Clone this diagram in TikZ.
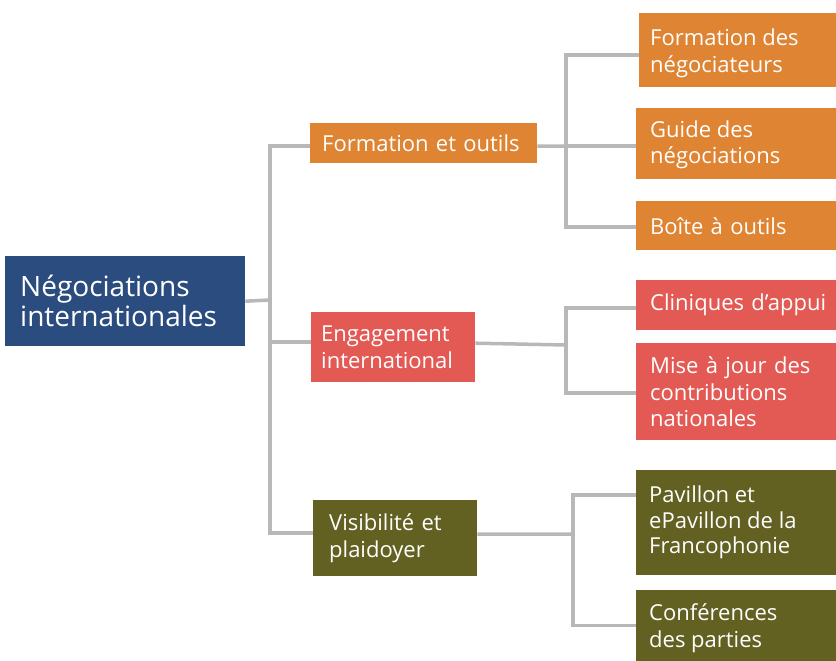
\documentclass[tikz,border=0pt]{standalone}
\usepackage{fontspec}
\setmainfont{Open Sans}
\usetikzlibrary{backgrounds}
\definecolor{navy}{HTML}{2B4C7E}
\definecolor{orng}{HTML}{DE8433}
\definecolor{redc}{HTML}{E35A55}
\definecolor{olive}{HTML}{636122}
\definecolor{linec}{HTML}{B8B8B8}
\newcommand\mytoptext[3]{\parbox[c][#1][t]{190pt}{\raggedright\rule{0pt}{#2}#3}}
\tikzset{
  box/.style={rectangle, anchor=north west, text=white, align=left, inner ysep=0pt,
     font=\fontsize{22}{26.5}\selectfont},
  conn/.style={draw=linec, line width=3.5pt},
}
\begin{document}
\begin{tikzpicture}[x=1pt,y=-1pt]
\useasboundingbox (0,0) rectangle (836,661);
% nodes
\node[box, fill=navy, minimum width=240, minimum height=90, inner xsep=15, text width=210,
      font=\fontsize{28}{30}\selectfont] (root) at (5,256) {Négociations\\internationales};
\node[box, fill=orng, minimum width=227, minimum height=40, inner xsep=12, text width=203] (fo) at (310,123) {Formation et outils};
\node[box, fill=redc, minimum width=164, minimum height=70, inner xsep=10, text width=144] (en) at (311,312) {Engagement\\international};
\node[box, fill=olive, minimum width=164, minimum height=76, inner xsep=16, text width=132] (vi) at (313,500) {Visibilité et\\plaidoyer};
\node[box, fill=orng, minimum width=200, minimum height=74, inner xsep=11, font=\fontsize{22}{27}\selectfont] (fd) at (639,13) {\mytoptext{74pt}{32pt}{Formation des\\négociateurs}};
\node[box, fill=orng, minimum width=203, minimum height=71, inner xsep=14] (gd) at (636,108) {\mytoptext{71pt}{29pt}{Guide des\\négociations}};
\node[box, fill=orng, minimum width=203, minimum height=49, inner xsep=14, text width=190] (bo) at (636,201) {Boîte à outils};
\node[box, fill=redc, minimum width=203, minimum height=50, inner xsep=14, text width=190] (ca) at (636,280) {Cliniques d’appui};
\node[box, fill=redc, minimum width=203, minimum height=97, inner xsep=14, text width=190] (mj) at (636,343) {Mise à jour des\\contributions\\nationales};
\node[box, fill=olive, minimum width=203, minimum height=105, inner xsep=13, font=\fontsize{22}{25.8}\selectfont] (pv) at (636,470) {\mytoptext{105pt}{32pt}{Pavillon et\\ePavillon de la\\Francophonie}};
\node[box, fill=olive, minimum width=203, minimum height=72, inner xsep=13, font=\fontsize{22}{27}\selectfont] (cp) at (636,590) {\mytoptext{72pt}{30pt}{Conférences\\des parties}};
% junctions
\coordinate (j1) at (270,300);
\coordinate (j2) at (566,146);
\coordinate (j3) at (566,345);
\coordinate (j4) at (573,534);
\begin{scope}[on background layer]
\draw[conn] (root.east) -- (j1);
\draw[conn] (j1) |- ([yshift=-3pt]fo.west);
\draw[conn] (j1) |- ([yshift=5pt]en.west);
\draw[conn] (j1) |- ([yshift=5pt]vi.west);
\draw[conn] ([yshift=-3pt]fo.east) -- (j2);
\draw[conn] (j2) |- ([yshift=-5pt]fd.west);
\draw[conn] (j2) |- ([yshift=-2.5pt]gd.west);
\draw[conn] (j2) |- ([yshift=-1.5pt]bo.west);
\draw[conn] ([yshift=4pt]en.east) -- (j3);
\draw[conn] (j3) |- ([yshift=-3pt]ca.west);
\draw[conn] (j3) |- ([yshift=-1.5pt]mj.west);
\draw[conn] ([yshift=4pt]vi.east) -- (j4);
\draw[conn] (j4) |- ([yshift=27.5pt]pv.west);
\draw[conn] (j4) |- ([yshift=0.5pt]cp.west);
\end{scope}
\end{tikzpicture}
\end{document}
